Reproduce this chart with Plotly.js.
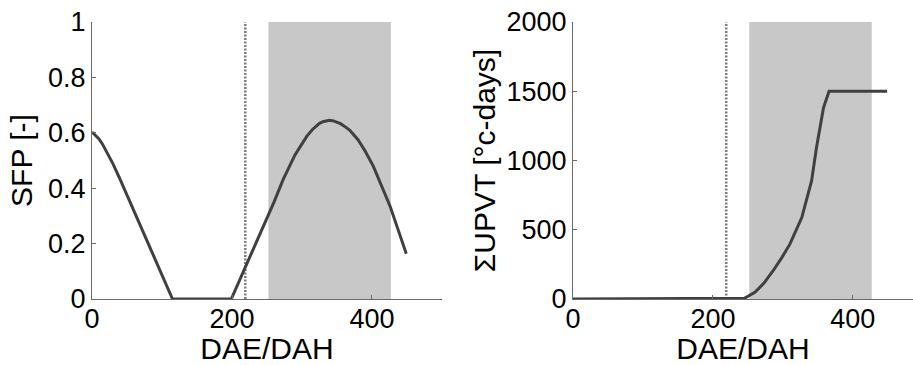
<!DOCTYPE html>
<html>
<head>
<meta charset="utf-8">
<script src="https://cdn.plot.ly/plotly-3.0.1.min.js"></script>
<style>html,body{margin:0;padding:0;background:#fff;}#chart{width:913px;height:365px;}</style>
</head>
<body>
<div id="chart"></div>
<script>
// Left panel: SFP [-] vs DAE/DAH
const sfpX = [0, 5, 10, 15, 20, 30, 40, 50, 60, 70, 80, 90, 100, 110, 115, 199, 210, 220, 226, 240, 250, 260, 273, 290, 300, 307, 315, 320, 325, 330, 335, 339, 345, 350, 355, 360, 368, 380, 390, 402, 415, 426, 438, 449];
const sfpY = [0.603, 0.592, 0.578, 0.559, 0.537, 0.488, 0.433, 0.375, 0.317, 0.26, 0.203, 0.146, 0.089, 0.029, 0, 0, 0.062, 0.12, 0.153, 0.232, 0.29, 0.35, 0.431, 0.52, 0.56, 0.588, 0.612, 0.624, 0.634, 0.640, 0.644, 0.645, 0.643, 0.639, 0.633, 0.625, 0.610, 0.575, 0.535, 0.479, 0.40, 0.334, 0.245, 0.163];

// Right panel: sum UPVT [°c-days] vs DAE/DAH
const upvtX = [0, 237, 245, 260, 273, 286, 298, 310, 327, 341, 348, 358, 366, 449];
const upvtY = [0, 0, 5, 48, 115, 204, 295, 396, 588, 852, 1092, 1380, 1500, 1500];

// Markers
const markDay = 219;          // dotted vertical line
const windowDays = [252, 427]; // shaded window

const xTicks = [0, 200, 400];
const sfpTicks = [0, 0.2, 0.4, 0.6, 0.8, 1];
const upvtTicks = [0, 500, 1000, 1500, 2000];
const sfpMax = 1, upvtMax = 2000;

const lineCol = '#404040';
const axCol = '#6a6a6a';
const font = 'Liberation Sans, Arial, sans-serif';

const dotLine = {color: '#7c7c7c', width: 2.5, dash: '2px,1.5px'};
const traces = [
  {x: [markDay, markDay], y: [0, sfpMax], xaxis: 'x', yaxis: 'y', mode: 'lines', line: dotLine, hoverinfo: 'skip'},
  {x: sfpX, y: sfpY, xaxis: 'x', yaxis: 'y', mode: 'lines', line: {color: lineCol, width: 3}},
  {x: [markDay, markDay], y: [0, upvtMax], xaxis: 'x2', yaxis: 'y2', mode: 'lines', line: dotLine, hoverinfo: 'skip'},
  {x: upvtX, y: upvtY, xaxis: 'x2', yaxis: 'y2', mode: 'lines', line: {color: lineCol, width: 3}}
];

const tickFont = {family: font, size: 27, color: '#000'};
const titleFont = {family: font, size: 30, color: '#000'};
const axBase = {
  showline: true, linecolor: axCol, linewidth: 1, showgrid: false, zeroline: false,
  ticks: 'inside', ticklen: 4, tickcolor: axCol, tickfont: tickFont
};

const layout = {
  width: 913, height: 365, showlegend: false,
  paper_bgcolor: '#fff', plot_bgcolor: 'rgba(0,0,0,0)',
  margin: {l: 92, r: 0, t: 22, b: 66},
  xaxis: Object.assign({}, axBase, {domain: [0, 0.4263], range: [0, 500], tickvals: xTicks, ticklabelstandoff: -4,
    title: {text: 'DAE/DAH', font: titleFont, standoff: 6}}),
  yaxis: Object.assign({}, axBase, {domain: [0, 1], range: [0, sfpMax], tickvals: sfpTicks,
    title: {text: 'SFP [-]', font: titleFont, standoff: 6}}),
  xaxis2: Object.assign({}, axBase, {domain: [0.5859, 1], range: [0, 486], tickvals: xTicks, anchor: 'y2', ticklabelstandoff: -4,
    title: {text: 'DAE/DAH', font: titleFont, standoff: 6}}),
  yaxis2: Object.assign({}, axBase, {domain: [0, 1], range: [0, upvtMax], tickvals: upvtTicks, anchor: 'x2',
    title: {text: 'ΣUPVT [°c-days]', font: titleFont, standoff: 2}}),
  shapes: [
    {type: 'rect', xref: 'x', yref: 'y', x0: windowDays[0], x1: windowDays[1], y0: 0, y1: sfpMax,
     fillcolor: '#c8c8c8', line: {width: 0}, layer: 'below'},
    {type: 'rect', xref: 'x2', yref: 'y2', x0: windowDays[0], x1: windowDays[1], y0: 0, y1: upvtMax,
     fillcolor: '#c8c8c8', line: {width: 0}, layer: 'below'}
  ]
};

Plotly.newPlot('chart', traces, layout, {staticPlot: true});
</script>
</body>
</html>
